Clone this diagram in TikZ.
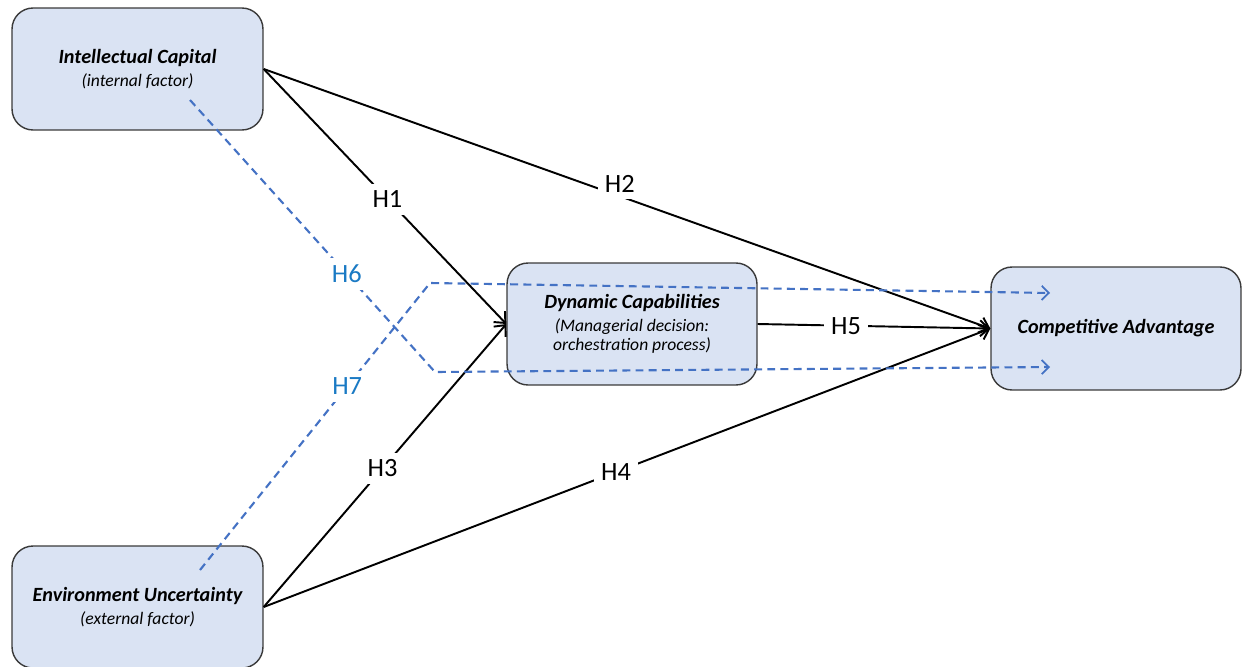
\documentclass[tikz,border=0pt]{standalone}
\usepackage{fontspec}
\setmainfont{Carlito}
\usetikzlibrary{arrows.meta}
\definecolor{boxfill}{HTML}{DAE3F3}
\definecolor{boxdraw}{HTML}{3A3A3A}
\definecolor{dashblue}{HTML}{4472C4}
\definecolor{labblue}{HTML}{1A7AC4}
\newcommand{\ttlfont}{\fontsize{11.5}{13}\selectfont\bfseries\itshape}
\newcommand{\subfont}{\fontsize{10}{12}\selectfont\itshape}
\tikzset{
  factorbox/.style={draw=boxdraw, fill=boxfill, line width=0.8pt, rounded corners=0.42cm,
    minimum width=5.02cm, minimum height=2.44cm, align=center, inner sep=2pt},
  link/.style={line width=1.1pt, black, -{Straight Barb[length=5pt,width=9pt,line width=1.1pt]}},
  hlab/.style={fill=white, inner sep=4pt, font=\fontsize{15}{17}\selectfont},
  moder/.style={line width=1.2pt, dashblue, dash pattern=on 4.5pt off 3pt,
    -{Straight Barb[length=4pt,width=8pt,line width=1pt]}},
  mlab/.style={fill=white, inner sep=4pt, text=labblue, font=\fontsize{15}{17}\selectfont},
}
\begin{document}
\begin{tikzpicture}[x=0.02cm, y=-0.02cm]
\useasboundingbox (0,0) rectangle (1243,666);

\node[factorbox] (ic) at (137.5,69)
  {{\ttlfont Intellectual Capital}\\[1pt]
   {\subfont (internal factor)}};
\node[factorbox] (eu) at (137.5,607)
  {{\ttlfont Environment Uncertainty}\\[1pt]
   {\subfont (external factor)}};
\node[factorbox, minimum width=5.0cm] (dc) at (632,324)
  {{\ttlfont Dynamic Capabilities}\\[1pt]
   {\subfont (Managerial decision:}\\[-1pt]
   {\subfont orchestration process)}};
\node[factorbox, minimum width=5.0cm, minimum height=2.46cm] (ca) at (1116,328.5)
  {{\ttlfont Competitive Advantage}};

% solid hypotheses
\draw[link] (ic.east) -- node[hlab, pos=0.51] (h1) {H1} (dc.west);
\draw[link] (ic.east) -- node[hlab, pos=0.49, yshift=7pt] (h2) {H2} (ca.west);
\draw[link] (eu.east) -- node[hlab, pos=0.49] (h3) {H3} (dc.west);
\draw[link] (eu.east) -- node[hlab, pos=0.485] (h4) {H4} (ca.west);
\draw[link] (dc.east) -- node[hlab, pos=0.38] (h5) {H5} (ca.west);

% moderation paths
\coordinate (s6) at (190,100);
\coordinate (k6) at (435,372);
\coordinate (e6) at (1050,367);
\coordinate (s7) at (200,570);
\coordinate (k7) at (430,283);
\coordinate (e7) at (1050,293);
\draw[moder] (s6) -- node[mlab, pos=0.64] (h6) {H6} (k6) -- (e6);
\draw[moder] (s7) -- node[mlab, pos=0.64] (h7) {H7} (k7) -- (e7);
\end{tikzpicture}
\end{document}
